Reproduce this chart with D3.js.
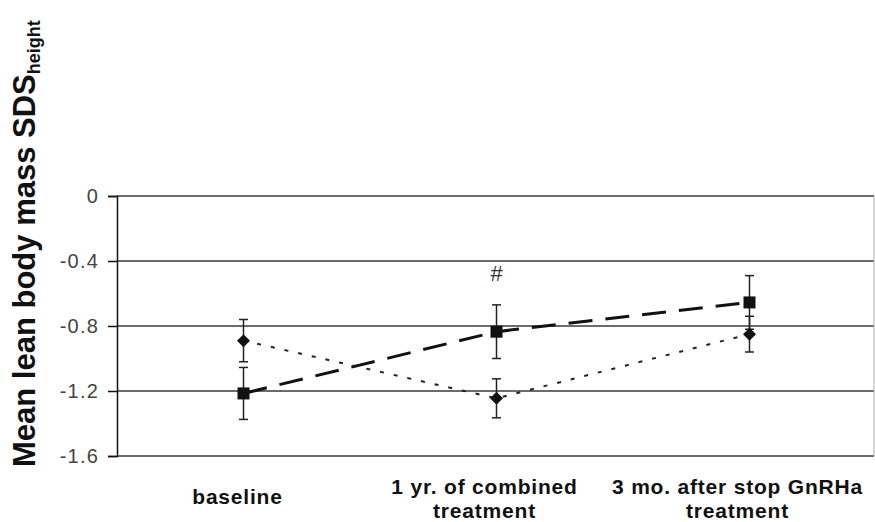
<!DOCTYPE html>
<html><head><meta charset="utf-8">
<script src="https://cdn.jsdelivr.net/npm/d3@7"></script>
<style>body{margin:0;background:#fff}svg{display:block}</style>
</head><body>
<svg id="chart" width="875" height="522"></svg>
<script>
const categories = ["baseline", "1 yr. of combined\ntreatment", "3 mo. after stop GnRHa\ntreatment"];
const squareMeans = [-1.215, -0.835, -0.655];
const squareErr = [0.16, 0.165, 0.165];
const diamondMeans = [-0.89, -1.245, -0.85];
const diamondErr = [0.13, 0.12, 0.11];
const yTicks = [0, -0.4, -0.8, -1.2, -1.6];
const yTickLabels = ["0", "-0.4", "-0.8", "-1.2", "-1.6"];
const annotation = {category: 1, value: -0.48, text: "#"};

const svg = d3.select("#chart");
const m = {left: 117, right: 874, top: 196, bottom: 456};
const x = d3.scaleBand().domain(categories).range([m.left, m.right + 2]);
const y = d3.scaleLinear().domain([-1.6, 0]).range([m.bottom, m.top]);
const cx = i => x(categories[i]) + x.bandwidth() / 2;

// gridlines
svg.append("g").selectAll("line").data(yTicks).join("line")
  .attr("x1", m.left).attr("x2", m.right)
  .attr("y1", d => y(d)).attr("y2", d => y(d))
  .attr("stroke", "#3a3a3a").attr("stroke-width", 1.5);
// right frame
svg.append("line").attr("x1", m.right).attr("x2", m.right)
  .attr("y1", y(0)).attr("y2", y(-1.6)).attr("stroke", "#aaa").attr("stroke-width", 1);

// y axis
const yAxis = d3.axisLeft(y).tickValues(yTicks)
  .tickFormat((d, i) => yTickLabels[i]).tickSize(9).tickPadding(9);
const ga = svg.append("g").attr("transform", `translate(${m.left},0)`).call(yAxis);
ga.select(".domain").attr("stroke", "#111").attr("stroke-width", 1.5);
ga.selectAll(".tick line").attr("stroke", "#111").attr("stroke-width", 1.5);
ga.selectAll(".tick text").attr("font-family", "Liberation Sans, Arial, sans-serif")
  .attr("font-size", 20).attr("fill", "#444").attr("letter-spacing", 1.2);

// lines
const line = d3.line().x((d, i) => cx(i)).y(d => y(d));
svg.append("path").datum(diamondMeans).attr("d", line)
  .attr("fill", "none").attr("stroke", "#222").attr("stroke-width", 2)
  .attr("stroke-dasharray", "4 10");
svg.append("path").datum(squareMeans).attr("d", line)
  .attr("fill", "none").attr("stroke", "#111").attr("stroke-width", 3)
  .attr("stroke-dasharray", "24 13");

// error bars
function errBars(means, errs) {
  const g = svg.append("g").attr("stroke", "#222").attr("stroke-width", 1.5);
  means.forEach((v, i) => {
    const X = cx(i);
    g.append("line").attr("x1", X).attr("x2", X).attr("y1", y(v + errs[i])).attr("y2", y(v - errs[i]));
    [v + errs[i], v - errs[i]].forEach(e => {
      g.append("line").attr("x1", X - 4.5).attr("x2", X + 4.5).attr("y1", y(e)).attr("y2", y(e));
    });
  });
}
errBars(diamondMeans, diamondErr);
errBars(squareMeans, squareErr);

// markers
svg.append("g").selectAll("path").data(diamondMeans).join("path")
  .attr("transform", (d, i) => `translate(${cx(i)},${y(d)})`)
  .attr("d", "M0,-6.5L6.5,0L0,6.5L-6.5,0Z").attr("fill", "#111");
svg.append("g").selectAll("rect").data(squareMeans).join("rect")
  .attr("x", (d, i) => cx(i) - 6).attr("y", d => y(d) - 6)
  .attr("width", 12).attr("height", 12).attr("fill", "#111");

// annotation
svg.append("text").attr("x", cx(annotation.category)).attr("y", y(annotation.value) + 7)
  .attr("text-anchor", "middle").attr("font-family", "Liberation Sans, Arial, sans-serif")
  .attr("font-size", 22).attr("fill", "#333").text(annotation.text);

// x labels
categories.forEach((c, i) => {
  const lines = c.split("\n");
  const t = svg.append("text").attr("text-anchor", "middle")
    .attr("font-family", "Liberation Sans, Arial, sans-serif").attr("font-weight", "bold")
    .attr("font-size", 21).attr("letter-spacing", 0.8).attr("fill", "#111");
  const x0 = cx(i) - (i === 0 ? 6 : 12);
  const y0 = lines.length === 1 ? 504 : 494;
  lines.forEach((l, j) => t.append("tspan").attr("x", x0).attr("y", y0 + j * 24).text(l));
});

// y title
const tt = svg.append("text").attr("transform", "translate(35,467) rotate(-90)")
  .attr("font-family", "Liberation Sans, Arial, sans-serif").attr("font-weight", "bold")
  .attr("font-size", 31).attr("fill", "#111");
tt.append("tspan").text("Mean lean body mass SDS");
tt.append("tspan").attr("font-size", 18).attr("dy", 5).text("height");
</script>
</body></html>
